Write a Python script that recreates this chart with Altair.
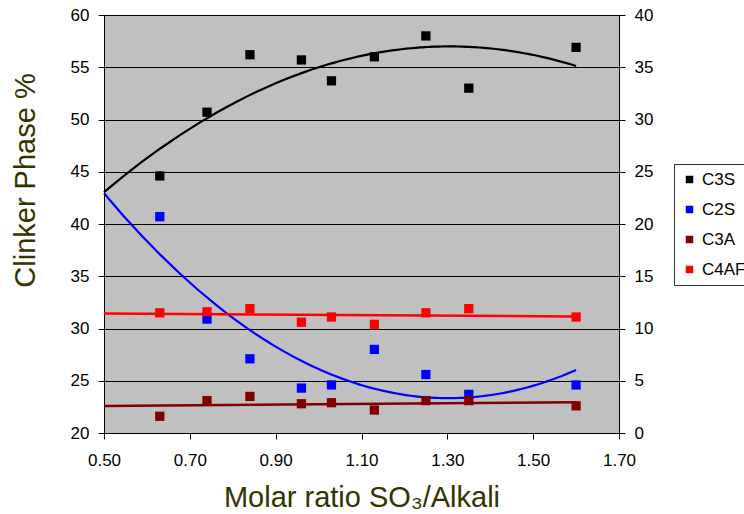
import altair as alt
import pandas as pd

# Molar ratio SO3/Alkali of each clinker sample
ratio = [0.63, 0.74, 0.84, 0.96, 1.03, 1.13, 1.25, 1.35, 1.60]

# Phase contents (%): C3S on the left axis, the others on the right axis
c3s = [44.6, 50.7, 56.2, 55.7, 53.7, 56.0, 58.0, 53.0, 56.9]
c2s = [20.7, 10.9, 7.1, 4.3, 4.6, 8.0, 5.6, 3.7, 4.6]
c3a = [1.6, 3.1, 3.5, 2.8, 2.9, 2.2, 3.1, 3.1, 2.6]
c4af = [11.5, 11.6, 11.9, 10.6, 11.1, 10.4, 11.5, 11.9, 11.1]

phases = ["C3S", "C2S", "C3A", "C4AF"]
colors = ["#000000", "#0000FF", "#800000", "#FF0000"]

x_ticks = [0.5, 0.7, 0.9, 1.1, 1.3, 1.5, 1.7]
left_ticks = [20, 25, 30, 35, 40, 45, 50, 55, 60]
right_ticks = [0, 5, 10, 15, 20, 25, 30, 35, 40]

rows = []
for name, vals in zip(phases, [c3s, c2s, c3a, c4af]):
    for r, v in zip(ratio, vals):
        rows.append({"ratio": r, "value": v, "phase": name})
df = pd.DataFrame(rows)

FONT = "Liberation Sans"
TITLE_COLOR = "#333300"

x_enc = alt.X(
    "ratio:Q",
    scale=alt.Scale(domain=[0.5, 1.7], nice=False, zero=False),
    axis=alt.Axis(
        values=x_ticks, format=".2f", grid=False, tickSize=6, labelPadding=13,
        labelFlush=False, labelOverlap=False,
        title="Molar ratio SO₃/Alkali", titleFontSize=29, titleColor=TITLE_COLOR,
        titleFontWeight="normal", titleBaseline="alphabetic", titleY=73,
    ),
)

left_y = alt.Y(
    "value:Q",
    scale=alt.Scale(domain=[20, 60], nice=False, zero=False),
    axis=alt.Axis(
        values=left_ticks, orient="left", grid=True, gridColor="#000000", gridWidth=1,
        tickSize=6, labelPadding=9, labelFlush=False,
        title="Clinker Phase %", titleFontSize=29, titleColor=TITLE_COLOR,
        titleFontWeight="normal", titleAngle=270, titleBaseline="alphabetic",
        titleAlign="center", titleX=-69.5, titleY=165,
    ),
)

right_y = alt.Y(
    "value:Q",
    scale=alt.Scale(domain=[0, 40], nice=False, zero=False),
    axis=alt.Axis(
        values=right_ticks, orient="right", grid=False, tickSize=6,
        labelPadding=9, labelFlush=False, title=None,
    ),
)

color_enc = alt.Color(
    "phase:N",
    scale=alt.Scale(domain=phases, range=colors),
    legend=alt.Legend(
        title=None, orient="none", legendX=570, legendY=149, direction="vertical",
        symbolType="square", symbolSize=56, symbolStrokeWidth=0,
        labelFontSize=17, labelOffset=4, rowPadding=12, padding=7,
        strokeColor="#333333", fillColor="white",
    ),
)

points = alt.Chart(df).mark_point(shape="square", filled=True, size=86, opacity=1)

# Left axis: C3S with a second-order trend line
left_df = df[df["phase"] == "C3S"]
left_line = (
    alt.Chart(left_df)
    .transform_regression("ratio", "value", method="poly", order=2, extent=[0.5, 1.6])
    .mark_line(color="#000000", strokeWidth=2.2)
    .encode(x=x_enc, y=left_y)
)
left_pts = points.transform_filter(alt.datum.phase == "C3S").encode(
    x=x_enc, y=left_y, color=color_enc
)
left = alt.layer(left_line, left_pts)

# Right axis: C2S (second-order trend), C3A and C4AF (linear trends)
c2s_line = (
    alt.Chart(df[df["phase"] == "C2S"])
    .transform_regression("ratio", "value", method="poly", order=2, extent=[0.5, 1.6])
    .mark_line(color="#0000FF", strokeWidth=2.2)
    .encode(x=x_enc, y=right_y)
)
c3a_line = (
    alt.Chart(df[df["phase"] == "C3A"])
    .transform_regression("ratio", "value", extent=[0.5, 1.6])
    .mark_line(color="#800000", strokeWidth=2.5)
    .encode(x=x_enc, y=right_y)
)
c4af_line = (
    alt.Chart(df[df["phase"] == "C4AF"])
    .transform_regression("ratio", "value", extent=[0.5, 1.6])
    .mark_line(color="#FF0000", strokeWidth=2.5)
    .encode(x=x_enc, y=right_y)
)
right_pts = points.transform_filter(alt.datum.phase != "C3S").encode(
    x=x_enc, y=right_y, color=color_enc
)
right = alt.layer(c2s_line, c3a_line, c4af_line, right_pts)

chart = (
    alt.layer(left, right)
    .resolve_scale(y="independent")
    .properties(
        width=515,
        height=418,
        padding={"left": 104, "top": 15, "right": 125, "bottom": 81},
        autosize=alt.AutoSizeParams(type="none"),
        background="white",
    )
    .configure_axis(
        labelFont=FONT, titleFont=FONT, labelFontSize=17, labelColor="#000000",
        domainColor="#000000", tickColor="#000000", domainWidth=1, tickWidth=1,
    )
    .configure_legend(labelFont=FONT, labelColor="#000000")
    .configure_view(fill="#C0C0C0", stroke="#777777")
)

chart.save("out.html", embed_options={"renderer": "svg", "actions": False})
